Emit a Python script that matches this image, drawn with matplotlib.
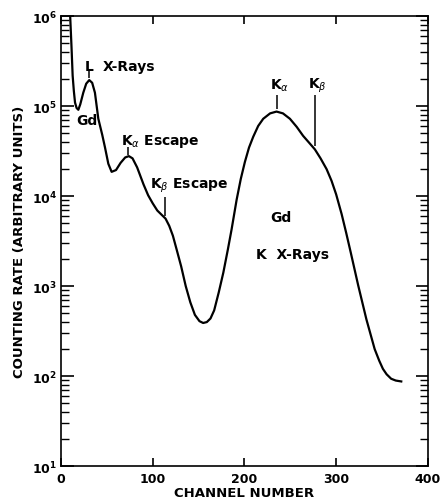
import matplotlib
matplotlib.use("Agg")
import matplotlib.pyplot as plt
import numpy as np
from matplotlib.ticker import LogLocator, FixedLocator, NullFormatter

# channel number vs log10(counting rate)
channel = [9.8, 11.5, 12.7, 14.0, 15.3, 17.0, 18.9, 21.0, 24.3, 27.5, 30.8, 34.0, 37.0,
           40.7, 45.0, 48.0, 51.6, 55.2, 60.0, 65.0, 70.0, 74.0, 78.0, 83.0, 90.0,
           95.0, 100.0, 105.0, 110.0, 114.0, 118.0, 122.0, 126.0, 131.0, 136.0,
           141.0, 146.0, 151.0, 155.0, 159.0, 163.0, 167.0, 172.0, 177.0, 182.0,
           186.0, 191.5, 196.0, 200.5, 205.0, 209.6, 215.0, 220.5, 228.0, 235.0,
           242.0, 249.6, 257.0, 264.0, 270.0, 276.8, 283.0, 289.6, 295.0, 300.0,
           306.0, 311.0, 316.0, 320.0, 324.0, 333.0, 342.0, 347.0, 351.0, 355.0,
           360.0, 365.0, 371.0]
log_rate = [6.05, 5.65, 5.34, 5.17, 5.04, 4.98, 4.96, 5.02, 5.15, 5.25, 5.29, 5.26, 5.15,
            4.86, 4.68, 4.54, 4.36, 4.27, 4.29, 4.37, 4.43, 4.445, 4.42, 4.32, 4.13,
            4.01, 3.92, 3.84, 3.79, 3.75, 3.67, 3.56, 3.41, 3.22, 3.00,
            2.82, 2.68, 2.61, 2.59, 2.60, 2.64, 2.73, 2.93, 3.15, 3.41,
            3.63, 3.96, 4.19, 4.38, 4.54, 4.66, 4.78, 4.86, 4.92, 4.94,
            4.92, 4.86, 4.77, 4.67, 4.60, 4.52, 4.42, 4.30, 4.17, 4.02,
            3.80, 3.59, 3.37, 3.19, 3.01, 2.63, 2.30, 2.17, 2.08, 2.02,
            1.97, 1.95, 1.94]
rate = 10 ** np.array(log_rate)

fig = plt.figure(figsize=(4.42, 5.02), dpi=100)
ax = fig.add_axes([0.138, 0.0697, 0.830, 0.896])
ax.plot(channel, rate, color="black", lw=1.6, clip_on=True, solid_joinstyle="round")

ax.set_yscale("log")
ax.set_xlim(0, 400)
ax.set_ylim(10, 1e6)

fnt = dict(family="DejaVu Sans", weight="bold", color="black")

# ticks
ax.xaxis.set_major_locator(FixedLocator([0, 100, 200, 300, 400]))
ax.xaxis.set_major_formatter(plt.FixedFormatter(["0", "100", "200", "300", "400"]))
ax.yaxis.set_major_locator(LogLocator(base=10, numticks=10))
ax.yaxis.set_minor_locator(LogLocator(base=10, subs=np.arange(2, 10), numticks=10))
ax.yaxis.set_minor_formatter(NullFormatter())
ax.tick_params(axis="both", which="both", direction="in", top=True, right=True)
ax.tick_params(axis="x", which="major", length=6, width=1.2, pad=4)
ax.tick_params(axis="y", which="major", length=9, width=1.2, pad=3)
ax.tick_params(axis="y", which="minor", length=6, width=1.0)
for lab in ax.get_xticklabels() + ax.get_yticklabels():
    lab.set_fontsize(9)
    lab.set_fontweight("bold")
for sp in ax.spines.values():
    sp.set_linewidth(1.2)

fig.text(0.045, 0.518, "COUNTING RATE (ARBITRARY UNITS)", rotation=90,
         ha="center", va="center", fontsize=9.5, **fnt)
fig.text(0.552, 0.016, "CHANNEL NUMBER", ha="center", va="center",
         fontsize=9.5, **fnt)

# peak labels and marker lines
ax.text(30.5, 2.78e5, "L", ha="center", va="center", fontsize=10, **fnt)
ax.text(45.8, 2.78e5, "X-Rays", ha="left", va="center", fontsize=10, **fnt)
ax.vlines(31, 10 ** 5.31, 10 ** 5.39, color="black", lw=1.1)
ax.text(28.3, 7.0e4, "Gd", ha="center", va="center", fontsize=10, **fnt)

ax.text(65.4, 4.2e4, r"K$_\alpha$ Escape", ha="left", va="center", fontsize=10, **fnt)
ax.vlines(73.5, 10 ** 4.456, 10 ** 4.544, color="black", lw=1.1)
ax.text(97, 1.32e4, r"K$_\beta$ Escape", ha="left", va="center", fontsize=10, **fnt)
ax.vlines(113.4, 10 ** 3.78, 10 ** 3.99, color="black", lw=1.1)

ax.text(238.7, 10 ** 5.233, r"K$_\alpha$", ha="center", va="center", fontsize=10, **fnt)
ax.vlines(235.4, 10 ** 4.967, 10 ** 5.12, color="black", lw=1.1)
ax.text(280, 10 ** 5.233, r"K$_\beta$", ha="center", va="center", fontsize=10, **fnt)
ax.vlines(276.8, 10 ** 4.556, 10 ** 5.12, color="black", lw=1.1)

ax.text(240, 10 ** 3.767, "Gd", ha="center", va="center", fontsize=10, **fnt)
ax.text(252, 10 ** 3.356, "K  X-Rays", ha="center", va="center", fontsize=10, **fnt)

fig.savefig("out.png", dpi=100)
